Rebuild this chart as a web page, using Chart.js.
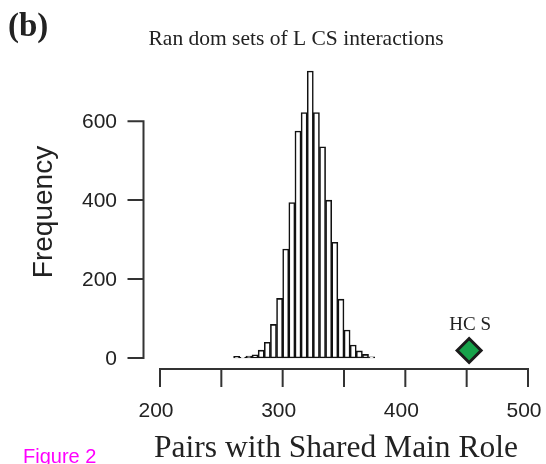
<!DOCTYPE html>
<html>
<head>
<meta charset="utf-8">
<script src="https://cdn.jsdelivr.net/npm/chart.js@4/dist/chart.umd.min.js"></script>
<style>
  html, body { margin: 0; padding: 0; background: #fff; }
  canvas { display: block; }
</style>
</head>
<body>
<canvas id="histChart" width="546" height="464"></canvas>
<script>
// 直方图分箱中心 (宽 5)
const binCenters = [262.5, 267.5, 272.5, 277.5, 282.5, 287.5, 292.5, 297.5, 302.5, 307.5, 312.5, 317.5,
    322.5, 327.5, 332.5, 337.5, 342.5, 347.5, 352.5, 357.5, 362.5, 367.5, 372.5];
// 各分箱频数
const binCounts = [4, 2, 5, 8, 20, 40, 85, 151, 276, 394, 575, 622,
    727, 622, 535, 400, 293, 149, 71, 33, 18, 9, 3];
// HCS 观测值
const hcsX = [452];
const hcsY = [19];
const hcsLabel = 'HC S';

// 刻度
const xTickValues = [200, 250, 300, 350, 400, 450, 500];
const xTickLabels = ['200', '', '300', '', '400', '', '500'];
const yTickValues = [0, 200, 400, 600];
const yTickLabels = ['0', '200', '400', '600'];

// 文字
const panelTag = '(b)';
const mainTitle = 'Ran dom sets of L CS interactions';
const xTitle = 'Pairs with Shared Main Role';
const yTitle = 'Frequency';
const figureTag = 'Figure 2';

const ink = '#222';

// R 风格的坐标轴与文字
const rAxesPlugin = {
    id: 'rAxes',
    afterDraw(chart) {
        const { ctx, chartArea, scales: { x, y } } = chart;
        ctx.save();
        ctx.strokeStyle = '#333';
        ctx.lineWidth = 2;
        ctx.lineCap = 'square';

        // y 轴
        const yAxisX = chartArea.left - 16.5;
        const yVals = y.ticks.map(t => t.value);
        ctx.beginPath();
        ctx.moveTo(yAxisX, y.getPixelForValue(yVals[0]));
        ctx.lineTo(yAxisX, y.getPixelForValue(yVals[yVals.length - 1]));
        yVals.forEach(v => {
            const py = y.getPixelForValue(v);
            ctx.moveTo(yAxisX, py);
            ctx.lineTo(yAxisX - 15, py);
        });
        ctx.stroke();

        ctx.fillStyle = ink;
        ctx.font = '21px "Liberation Sans"';
        ctx.textAlign = 'right';
        ctx.textBaseline = 'middle';
        yVals.forEach((v, i) => {
            ctx.fillText(yTickLabels[i], yAxisX - 26.5, y.getPixelForValue(v) + 1);
        });

        // x 轴
        const xAxisY = chartArea.bottom + 11;
        const xVals = x.ticks.map(t => t.value);
        ctx.beginPath();
        ctx.moveTo(x.getPixelForValue(xVals[0]), xAxisY);
        ctx.lineTo(x.getPixelForValue(xVals[xVals.length - 1]), xAxisY);
        xVals.forEach(v => {
            const px = x.getPixelForValue(v);
            ctx.moveTo(px, xAxisY);
            ctx.lineTo(px, xAxisY + 17);
        });
        ctx.stroke();

        ctx.textAlign = 'center';
        xVals.forEach((v, i) => {
            ctx.fillText(xTickLabels[i], x.getPixelForValue(v) - 4, xAxisY + 42);
        });

        // y 轴标题
        ctx.save();
        ctx.translate(44, 212);
        ctx.rotate(-Math.PI / 2);
        ctx.font = '28px "Liberation Sans"';
        ctx.fillText(yTitle, 0, 0);
        ctx.restore();

        // x 轴标题
        ctx.textBaseline = 'alphabetic';
        ctx.font = '31.5px "Liberation Serif"';
        ctx.fillText(xTitle, 336, 457);

        // 主标题
        ctx.font = '21.5px "Liberation Serif"';
        ctx.fillText(mainTitle, 296, 45);

        // HCS 标注
        ctx.font = '19px "Liberation Serif"';
        ctx.fillText(hcsLabel, x.getPixelForValue(hcsX[0]) + 1, 330);

        // 面板标记
        ctx.textAlign = 'left';
        ctx.font = 'bold 33px "Liberation Serif"';
        ctx.fillText(panelTag, 8, 36);

        ctx.fillStyle = '#ff00ff';
        ctx.font = '20px "Liberation Sans"';
        ctx.fillText(figureTag, 23, 463);

        ctx.restore();
    }
};

function initHistChart() {
    const ctx = document.getElementById('histChart').getContext('2d');
    new Chart(ctx, {
        type: 'bar',
        data: {
            datasets: [{
                type: 'bar',
                data: binCenters.map((c, i) => ({ x: c, y: binCounts[i] })),
                backgroundColor: '#ffffff',
                borderColor: '#111111',
                borderWidth: 1.6,
                borderSkipped: false,
                barPercentage: 1,
                categoryPercentage: 1,
                clip: false
            }, {
                type: 'scatter',
                data: hcsX.map((v, i) => ({ x: v, y: hcsY[i] })),
                pointStyle: 'rectRot',
                pointRadius: 12,
                backgroundColor: '#17a24a',
                borderColor: '#1b1b1b',
                borderWidth: 3,
                clip: false
            }]
        },
        options: {
            responsive: false,
            animation: false,
            layout: {
                padding: { left: 160, right: 18, top: 58, bottom: 106 }
            },
            plugins: {
                legend: { display: false },
                tooltip: { enabled: false }
            },
            scales: {
                x: {
                    type: 'linear',
                    display: false,
                    offset: false,
                    min: 200,
                    max: 500,
                    afterBuildTicks: scale => {
                        scale.ticks = xTickValues.map(v => ({ value: v }));
                    }
                },
                y: {
                    type: 'linear',
                    display: false,
                    min: 0,
                    max: 760,
                    afterBuildTicks: scale => {
                        scale.ticks = yTickValues.map(v => ({ value: v }));
                    }
                }
            }
        },
        plugins: [rAxesPlugin]
    });
}

document.addEventListener('DOMContentLoaded', function() {
    initHistChart();
});
</script>
</body>
</html>
